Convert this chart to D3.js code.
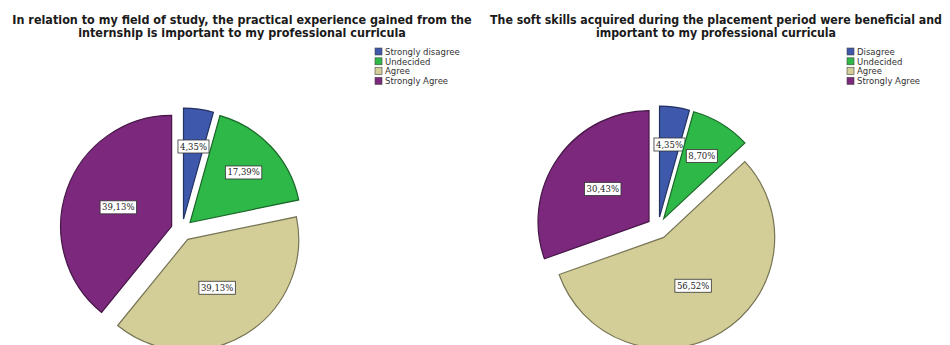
<!DOCTYPE html>
<html lang="en">
<head>
    <meta charset="UTF-8">
    <title>Internship survey pies</title>
    <script src="https://d3js.org/d3.v7.min.js"></script>
    <style>
        body { margin: 0; background: #ffffff; }
        .title { font-family: "DejaVu Sans", sans-serif; font-weight: bold; font-size: 12px; fill: #1a1a1a; }
        .legend text { font-family: "DejaVu Sans", sans-serif; font-size: 8.5px; fill: #333; }
        .pct { font-family: "DejaVu Serif", serif; font-size: 8.5px; fill: #222; }
    </style>
</head>
<body>
<div id="chart"></div>
<script>
    // Chart data
    const colors = ["#3e58ac", "#2eb848", "#d3ce97", "#7c287d"];

    const leftTitle = ["In relation to my field of study, the practical experience gained from the",
                       "internship is important to my professional curricula"];
    const leftCategories = ["Strongly disagree", "Undecided", "Agree", "Strongly Agree"];
    const leftValues = [4.35, 17.39, 39.13, 39.13];

    const rightTitle = ["The soft skills acquired during the placement period were beneficial and",
                        "important to my professional curricula"];
    const rightCategories = ["Disagree", "Undecided", "Agree", "Strongly Agree"];
    const rightValues = [4.35, 8.70, 56.52, 30.43];

    const width = 950, height = 345;
    const svg = d3.select("#chart").append("svg")
        .attr("width", width)
        .attr("height", height);

    function drawPanel(opts) {
        const g = svg.append("g");

        // title - squeezed horizontally so the first line fits its width
        const titleG = g.append("g");
        const titles = titleG.selectAll("text.title")
            .data(opts.title)
            .enter().append("text")
            .attr("class", "title")
            .attr("x", 0)
            .attr("y", (d, i) => 24 + i * 13.5)
            .attr("text-anchor", "middle")
            .text(d => d);
        const k = opts.titleWidth / titles.nodes()[0].getComputedTextLength();
        titleG.attr("transform", `translate(${opts.titleX},0) scale(${k},1)`);

        // legend
        const legend = g.append("g").attr("class", "legend")
            .attr("transform", `translate(${opts.legendX},48)`);
        const rows = legend.selectAll("g")
            .data(opts.categories)
            .enter().append("g")
            .attr("transform", (d, i) => `translate(0,${i * 9.8})`);
        rows.append("rect")
            .attr("width", 7).attr("height", 7)
            .attr("fill", (d, i) => colors[i])
            .attr("stroke", "#444").attr("stroke-width", 0.6);
        rows.append("text")
            .attr("x", 10).attr("y", 6.7)
            .text(d => d);

        // pie
        const radius = 111, explode = 11;
        const pie = d3.pie().sort(null).value(d => d);
        const arc = d3.arc().innerRadius(0).outerRadius(radius);
        const arcs = pie(opts.values);

        const pieG = g.append("g")
            .attr("transform", `translate(${opts.cx},${opts.cy})`);

        const slices = pieG.selectAll("g.slice")
            .data(arcs)
            .enter().append("g")
            .attr("class", "slice")
            .attr("transform", d => {
                const a = (d.startAngle + d.endAngle) / 2;
                return `translate(${Math.sin(a) * explode},${-Math.cos(a) * explode})`;
            });

        slices.append("path")
            .attr("d", arc)
            .attr("fill", (d, i) => colors[i])
            .attr("stroke", (d, i) => d3.color(colors[i]).darker(1.6))
            .attr("stroke-width", 1.2);

        // percentage labels in white boxes
        const labels = slices.append("g")
            .attr("transform", d => {
                const a = (d.startAngle + d.endAngle) / 2;
                const lr = radius * (d.data < 20 ? 0.66 : 0.51);
                return `translate(${Math.sin(a) * lr},${-Math.cos(a) * lr})`;
            });
        labels.append("text")
            .attr("class", "pct")
            .attr("text-anchor", "middle")
            .attr("dy", "0.35em")
            .text(d => d.data.toFixed(2).replace(".", ",") + "%");
        labels.each(function() {
            const t = d3.select(this).select("text");
            const b = t.node().getBBox();
            d3.select(this).insert("rect", "text")
                .attr("x", b.x - 2).attr("y", b.y - 1.5)
                .attr("width", b.width + 4).attr("height", b.height + 3)
                .attr("fill", "#ffffff")
                .attr("stroke", "#333").attr("stroke-width", 0.8);
        });
    }

    drawPanel({ title: leftTitle, categories: leftCategories, values: leftValues,
                titleX: 242, titleWidth: 460, legendX: 375, cx: 182, cy: 230 });
    drawPanel({ title: rightTitle, categories: rightCategories, values: rightValues,
                titleX: 716, titleWidth: 452, legendX: 847, cx: 658, cy: 228 });
</script>
</body>
</html>
